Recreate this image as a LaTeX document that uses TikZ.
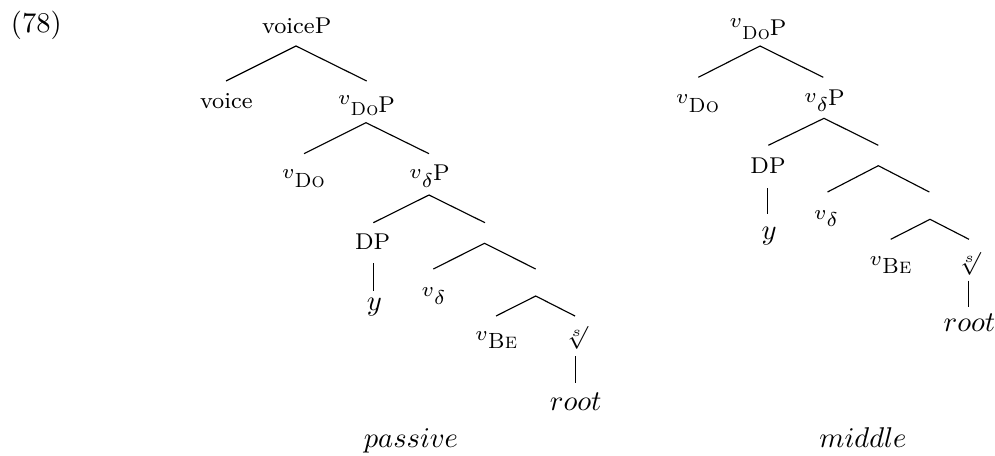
\RequirePackage{fix-cm}
\documentclass[tikz,border=0pt]{standalone}
\tikzset{
  lbl/.style={anchor=base, inner sep=0pt, outer sep=0pt, font=\fontsize{8}{9.6}\selectfont},
  big/.style={anchor=base, inner sep=0pt, outer sep=0pt, font=\fontsize{10}{12}\selectfont},
  rad/.style={anchor=south, inner sep=0pt, outer sep=0pt, font=\fontsize{8}{9.6}\selectfont},
  branch/.style={line width=0.4pt},
}
\newcommand{\sv}[1]{\raisebox{#1}{\fontsize{7.2}{8}\selectfont$v$}}
\newcommand{\scs}[2]{{\fontsize{#1}{8}\selectfont\textsc{#2}}}
\newcommand{\dlt}[1]{\raisebox{#1}{\fontsize{7}{8}\selectfont$\delta$}}
\begin{document}
\begin{tikzpicture}[x=0.35pt,y=-0.35pt]
\useasboundingbox (0,0) rectangle (995,455);
% example number
\node[big] (ex) at (36.3,32.7) {(78)};

% ---------------- passive ----------------
\node[lbl] (pvoiceP) at (296.7,33.3) {voiceP};
\node[lbl] (pvoice)  at (226.3,108.3) {voice};
\node[lbl] (pvDoP)   at (366.5,112.3) {\sv{2.8pt}\raisebox{-1.2pt}{\scs{6.6}{Do}}P};
\node[lbl] (pvDo)    at (303.5,187.3) {\sv{3.1pt}\scs{7.2}{Do}};
\node[lbl] (pvdP)    at (429.5,180.7) {\sv{0.8pt}\dlt{-2.3pt}P};
\node[lbl] (pDP)     at (372.7,249.3) {DP};
\node[big] (py)      at (374.3,310.6) {$y$};
\node[lbl] (pvd)     at (433.5,296.7) {\sv{0pt}\dlt{-2.6pt}};
\node[lbl] (pvBe)    at (496.3,348.3) {\sv{2.8pt}\scs{7.7}{Be}};
\node[rad] (prad)    at (576.5,349) {$\sqrt[s]{}$};
\node[big] (proot)   at (575.7,410.5) {$root$};
\node[big] (ppass)   at (411,447.3) {$passive$};

\coordinate (pa1) at (296,46);
\coordinate (pa1l) at (226,81);
\coordinate (pa1r) at (366.7,81);
\coordinate (pa2) at (366,122.7);
\coordinate (pa2l) at (304,153.7);
\coordinate (pa2r) at (429,153.7);
\coordinate (pa3) at (429,195);
\coordinate (pa3l) at (373.3,222.7);
\coordinate (pa3r) at (485,222.7);
\coordinate (pa4) at (484.5,243.3);
\coordinate (pa4l) at (433.3,269);
\coordinate (pa4r) at (535.7,269);
\coordinate (pa5) at (535.7,296);
\coordinate (pa5l) at (496,316);
\coordinate (pa5r) at (575,316);
\coordinate (pdpt) at (373.3,263.3);
\coordinate (pdpb) at (373.3,290.7);
\coordinate (prt) at (575.5,356);
\coordinate (prb) at (575.5,383.3);

\draw[branch] (pa1l) -- (pa1) -- (pa1r);
\draw[branch] (pa2l) -- (pa2) -- (pa2r);
\draw[branch] (pa3l) -- (pa3) -- (pa3r);
\draw[branch] (pa4l) -- (pa4) -- (pa4r);
\draw[branch] (pa5l) -- (pa5) -- (pa5r);
\draw[branch] (pdpt) -- (pdpb);
\draw[branch] (prt) -- (prb);

% ---------------- middle ----------------
\node[lbl] (mvDoP) at (758,35.6) {\sv{2.8pt}\raisebox{-1.2pt}{\scs{6.6}{Do}}P};
\node[lbl] (mvDo)  at (697.5,112.3) {\sv{3.1pt}\scs{7.2}{Do}};
\node[lbl] (mvdP)  at (824.5,105) {\sv{0.8pt}\dlt{-2.3pt}P};
\node[lbl] (mDP)   at (768,173.3) {DP};
\node[big] (my)    at (769,239.6) {$y$};
\node[lbl] (mvd)   at (826,219.3) {\sv{0pt}\dlt{-2.6pt}};
\node[lbl] (mvBe)  at (890.5,273.3) {\sv{2.8pt}\scs{7.7}{Be}};
\node[rad] (mrad)  at (969.2,275) {$\sqrt[s]{}$};
\node[big] (mroot) at (969.5,331) {$root$};
\node[big] (mmid)  at (863,447.3) {$middle$};

\coordinate (mb1) at (760,46);
\coordinate (mb1l) at (698.3,77.3);
\coordinate (mb1r) at (823.3,77.3);
\coordinate (mb2) at (824,118.3);
\coordinate (mb2l) at (768.3,145.3);
\coordinate (mb2r) at (878.3,145.3);
\coordinate (mb3) at (878.3,165.7);
\coordinate (mb3l) at (827.5,192);
\coordinate (mb3r) at (929.3,192);
\coordinate (mb4) at (930,219.3);
\coordinate (mb4l) at (890.7,239.3);
\coordinate (mb4r) at (969,239.3);
\coordinate (mdpt) at (767.7,188.3);
\coordinate (mdpb) at (767.7,214);
\coordinate (mrt) at (968.3,280.7);
\coordinate (mrb) at (968.3,307.3);

\draw[branch] (mb1l) -- (mb1) -- (mb1r);
\draw[branch] (mb2l) -- (mb2) -- (mb2r);
\draw[branch] (mb3l) -- (mb3) -- (mb3r);
\draw[branch] (mb4l) -- (mb4) -- (mb4r);
\draw[branch] (mdpt) -- (mdpb);
\draw[branch] (mrt) -- (mrb);
\end{tikzpicture}
\end{document}
